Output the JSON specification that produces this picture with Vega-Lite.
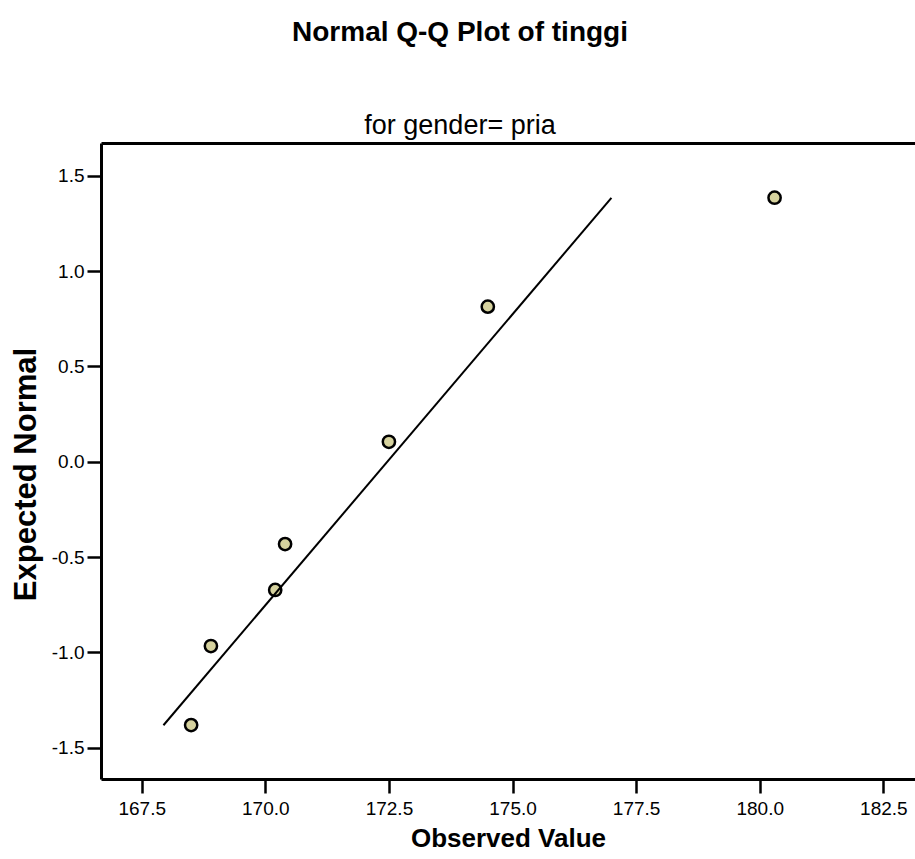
{
  "$schema": "https://vega.github.io/schema/vega-lite/v6.json",
  "autosize": "none",
  "width": 814,
  "height": 636,
  "padding": {"top": 143, "left": 101, "right": 0, "bottom": 80},
  "background": "white",
  "config": {
    "view": {"stroke": null},
    "font": "Liberation Sans"
  },
  "title": {
    "text": "Normal Q-Q Plot of tinggi",
    "subtitle": "for gender= pria",
    "font": "Liberation Sans",
    "fontSize": 28,
    "fontWeight": "bold",
    "color": "black",
    "subtitleFont": "Liberation Sans",
    "subtitleFontSize": 27,
    "subtitleColor": "black",
    "subtitlePadding": 66,
    "anchor": "middle",
    "dx": -48,
    "offset": 4
  },
  "datasets": {
    "points": [
      {"observed": 168.5, "expected": -1.382},
      {"observed": 168.9, "expected": -0.967},
      {"observed": 170.2, "expected": -0.673},
      {"observed": 170.4, "expected": -0.432},
      {"observed": 172.5, "expected": 0.105},
      {"observed": 174.5, "expected": 0.814},
      {"observed": 180.3, "expected": 1.386}
    ],
    "refline": [
      {"observed": 167.94, "expected": -1.383},
      {"observed": 177.0, "expected": 1.385}
    ]
  },
  "resolve": {"axis": {"x": "independent"}},
  "layer": [
    {
      "data": {"name": "points"},
      "mark": {"type": "point", "shape": "circle", "filled": true, "fill": "#d6d29e", "stroke": "black", "strokeWidth": 2.5, "size": 150, "opacity": 1},
      "encoding": {
        "x": {
          "field": "observed", "type": "quantitative",
          "scale": {"domain": [166.677, 183.14], "nice": false, "zero": false},
          "axis": {
            "orient": "bottom",
            "title": "Observed Value",
            "values": [167.5, 170, 172.5, 175, 177.5, 180, 182.5],
            "labelExpr": "format(datum.value, '.1f')",
            "grid": false,
            "domainColor": "black", "domainWidth": 3,
            "tickColor": "black", "tickWidth": 2.5, "tickSize": 14,
            "labelFont": "Liberation Sans", "labelFontSize": 19, "labelColor": "black", "labelPadding": 6,
            "titleFont": "Liberation Sans", "titleFontSize": 26, "titleFontWeight": "bold", "titleColor": "black", "titlePadding": 7
          }
        },
        "y": {
          "field": "expected", "type": "quantitative",
          "scale": {"domain": [-1.665, 1.673], "nice": false, "zero": false},
          "axis": {
            "title": "Expected Normal",
            "values": [-1.5, -1, -0.5, 0, 0.5, 1, 1.5],
            "labelExpr": "replace(format(datum.value, '.1f'), '\u2212', '-')",
            "grid": false,
            "domainColor": "black", "domainWidth": 3,
            "tickColor": "black", "tickWidth": 2.5, "tickSize": 14,
            "labelFont": "Liberation Sans", "labelFontSize": 19, "labelColor": "black", "labelPadding": 3,
            "titleFont": "Liberation Sans", "titleFontSize": 31, "titleFontWeight": "bold", "titleColor": "black", "titlePadding": 9,
            "titleY": 331
          }
        }
      }
    },
    {
      "data": {"name": "refline"},
      "mark": {"type": "line", "color": "black", "strokeWidth": 2},
      "encoding": {
        "x": {
          "field": "observed", "type": "quantitative",
          "scale": {"domain": [166.677, 183.14], "nice": false, "zero": false},
          "axis": {"orient": "top", "title": null, "labels": false, "ticks": false, "grid": false, "domainColor": "black", "domainWidth": 3}
        },
        "y": {
          "field": "expected", "type": "quantitative",
          "scale": {"domain": [-1.665, 1.673], "nice": false, "zero": false}
        }
      }
    }
  ]
}
